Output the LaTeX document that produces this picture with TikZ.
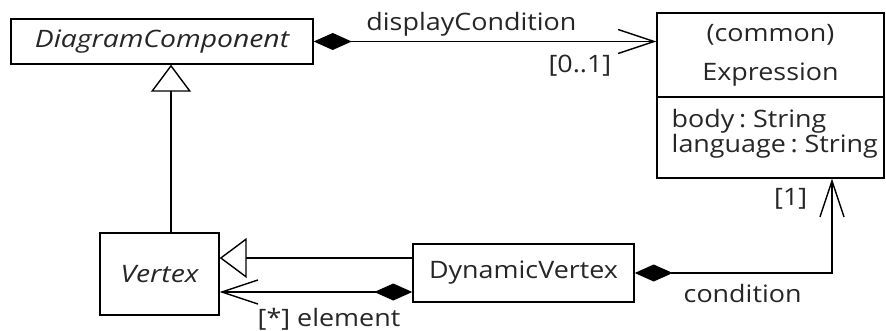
\documentclass[tikz,border=0pt]{standalone}
\usepackage{fontspec}
\setmainfont{Open Sans}[FakeStretch=1.12]
\newfontfamily\itfont{Open Sans}[FakeStretch=1.18]
\usetikzlibrary{arrows.meta,calc}
\begin{document}
\begin{tikzpicture}[x=1pt,y=-1pt,line width=1.4pt,
  txt/.style={font=\fontsize{24}{26}\selectfont, inner sep=0pt, text=black!85},
  cls/.style={draw, line width=1.4pt, inner sep=0pt, font=\fontsize{24}{26}\selectfont, text=black!85},
  itcls/.style={cls, font=\itfont\itshape\fontsize{24}{26}\selectfont},
  comp/.style={{Diamond[length=38pt,width=17pt,fill=black]}-{Straight Barb[length=36pt,width=24pt]}},
  gen/.style={-{Triangle[open,length=27pt,width=40pt,fill=white]}}
]
\useasboundingbox[fill=white] (0,0) rectangle (886,331);

% classes
\node[itcls, minimum width=302pt, minimum height=45pt] (dc) at (162,41.5) {DiagramComponent};
\node[cls, minimum width=227pt, minimum height=84pt, align=center, font=\fontsize{24}{39}\selectfont] (exprH) at (770.5,55) {(common)\\Expression};
\node[cls, minimum width=227pt, minimum height=81pt] (exprA) at (770.5,137.5) {};
\node[txt, anchor=base west] (attr1) at (671,128) {body\hspace{0.2em}:\hspace{0.28em}String};
\node[txt, anchor=base west] (attr2) at (671,153) {language\hspace{0.2em}:\hspace{0.28em}String};
\node[itcls, minimum width=119pt, minimum height=82pt] (vertex) at (159.5,274) {Vertex};
\node[cls, minimum width=221pt, minimum height=58pt] (dv) at (523.5,273) {DynamicVertex};

% helper coordinates
\coordinate (g1) at (171,0);
\coordinate (yg) at (0,258);
\coordinate (yc) at (0,292);
\coordinate (xc) at (832,0);

% connectors
\draw[comp] (dc.east) -- (dc.east -| exprH.west);
\draw[gen] (g1 |- vertex.north) -- (g1 |- dc.south);
\draw[gen] (dv.west |- yg) -- (vertex.east |- yg);
\draw[comp] (dv.west |- yc) -- (vertex.east |- yc);
\draw[comp] (dv.east) -| (xc |- exprA.south);

% labels
\node[txt, anchor=base east] (l1) at (577,31) {displayCondition};
\node[txt, anchor=base east] (l2) at (612,73) {[0..1]};
\node[txt, anchor=base east] (l3) at (808,206) {[1]};
\node[txt, anchor=base west] (l4) at (683,302) {condition};
\node[txt, anchor=base west] (l5) at (257,326) {[*]\hspace{7pt}element};
\end{tikzpicture}
\end{document}
